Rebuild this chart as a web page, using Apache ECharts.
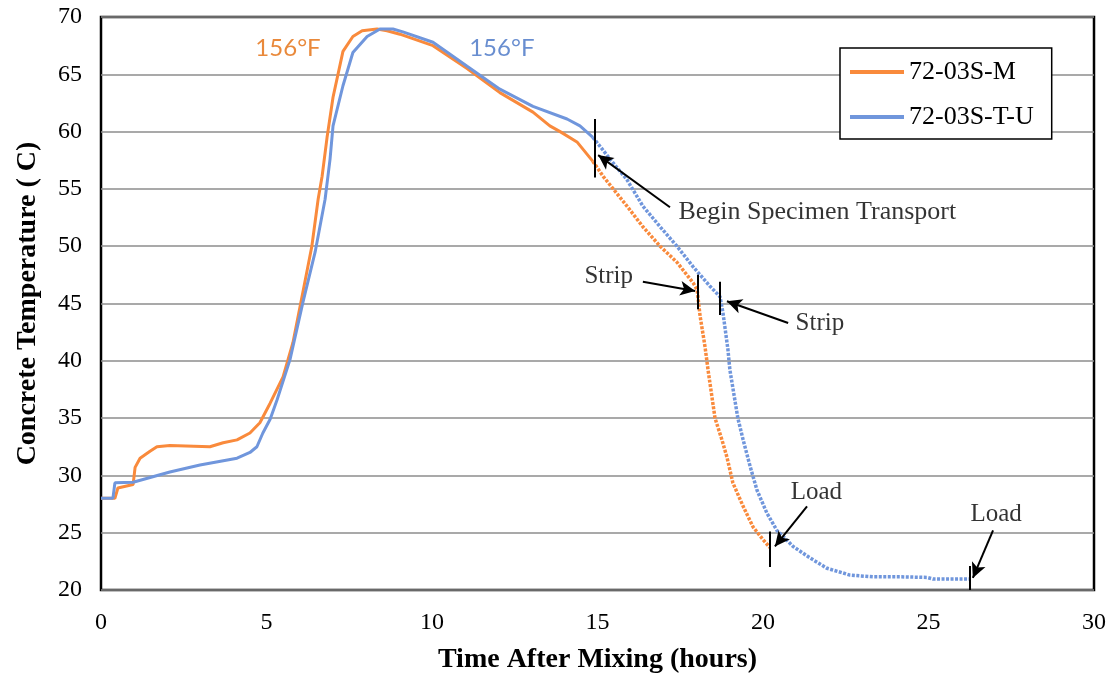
<!DOCTYPE html>
<html>
<head>
<meta charset="utf-8">
<script src="https://cdn.jsdelivr.net/npm/echarts@6/dist/echarts.min.js"></script>
<style>
html,body{margin:0;padding:0;background:#fff;}
#chart{width:1115px;height:682px;}
</style>
</head>
<body>
<div id="chart"></div>
<script>
// ---- data (hours, °C) ----
const seriesNames = ['72-03S-M', '72-03S-T-U'];

const orangeSolid = [[0,28.0],[0.42,28.0],[0.51,28.9],[0.97,29.2],[1.03,30.7],[1.18,31.5],[1.48,32.1],[1.69,32.5],[2.08,32.6],[3.29,32.5],[3.69,32.85],[4.11,33.1],[4.50,33.7],[4.80,34.6],[5.11,36.3],[5.50,38.6],[5.80,41.6],[6.10,46.0],[6.37,50.0],[6.56,54.1],[6.68,56.1],[6.83,59.5],[7.01,63.0],[7.31,67.0],[7.61,68.3],[7.89,68.8],[8.34,68.95],[8.64,68.8],[9.03,68.5],[10.03,67.5],[11.06,65.5],[12.05,63.4],[13.05,61.7],[13.56,60.5],[13.87,60.0],[14.38,59.1],[14.86,57.4]];
const orangeDotted = [[14.86,57.4],[15.17,56.1],[15.89,53.5],[16.37,51.7],[16.89,50.0],[17.40,48.6],[17.89,46.8],[18.01,46.2],[18.10,43.9],[18.25,41.2],[18.34,39.2],[18.55,35.0],[18.76,33.1],[18.91,31.6],[19.09,29.35],[19.40,27.3],[19.70,25.5],[20.00,24.4],[20.21,23.7]];

const blueSolid = [[0,28.0],[0.36,28.0],[0.42,29.35],[0.97,29.4],[2.08,30.3],[2.99,30.9],[4.11,31.5],[4.50,32.0],[4.71,32.5],[4.89,33.7],[5.11,34.9],[5.32,36.6],[5.71,40.1],[6.10,45.1],[6.47,49.5],[6.77,54.1],[6.92,57.6],[7.01,60.5],[7.31,64.0],[7.61,66.9],[8.04,68.3],[8.43,68.95],[8.82,68.95],[9.12,68.7],[10.03,67.8],[11.06,65.7],[12.05,63.7],[13.05,62.2],[14.08,61.1],[14.47,60.5],[14.86,59.5]];
const blueDotted = [[14.86,59.5],[15.38,57.6],[15.89,55.8],[16.37,53.5],[16.89,51.7],[17.40,50.0],[17.89,48.2],[18.40,46.5],[18.70,45.6],[18.79,44.2],[18.94,41.0],[19.00,39.2],[19.24,35.0],[19.40,33.1],[19.61,30.8],[19.82,28.7],[20.12,26.7],[20.42,25.2],[20.91,23.8],[21.42,22.8],[21.93,21.9],[22.63,21.3],[23.32,21.15],[24.14,21.15],[24.95,21.1],[25.14,20.95],[26.25,20.95]];

// annotation marks (data coordinates)
const eventTicks = [[14.92,61.1,56.0],[18.04,47.5,44.5],[18.70,46.9,44.0],[20.21,25.1,22.0],[26.25,22.1,20.0]];
const eventArrows = [[17.19,53.4,15.02,57.95],[16.37,46.9,17.95,46.1],[20.76,43.3,18.91,45.2],[21.33,27.3,20.36,23.8],[26.95,25.2,26.34,21.05]];
const eventTexts = [['Begin Specimen Transport',17.43,53.0],['Strip',14.59,47.35],['Strip',20.97,43.3],['Load',20.82,28.5],['Load',26.25,26.55]];
const peakTexts = [['156°F',5.65,67.3,0],['156°F',12.11,67.3,1]];

const xTicks = [0,5,10,15,20,25,30];
const yTicks = [20,25,30,35,40,45,50,55,60,65,70];

// ---- styles ----
const lineColors = ['#F98A3C', '#7096DC'];
const textColors = ['#E36C0A', '#4472C4'];
const serif = '"Liberation Serif","Times New Roman",serif';

const chart = echarts.init(document.getElementById('chart'), null, {renderer:'canvas'});

function lineSeries(name, data, colorIdx, dotted){
  return {
    name: name, type: 'line', data: data, symbol: 'none', silent: true,
    lineStyle: {color: lineColors[colorIdx], width: dotted ? 3.5 : 3, type: dotted ? [3,1.5] : 'solid', cap: 'butt'},
    itemStyle: {color: lineColors[colorIdx]},
    z: 3 + colorIdx
  };
}

const option = {
  animation: false,
  backgroundColor: '#fff',
  grid: {left: 101, right: 21, top: 17, bottom: 92, show: true, borderColor: '#000', borderWidth: 2.5, backgroundColor: 'transparent'},
  legend: {
    data: seriesNames.map((n,i)=>({name:n, icon:'rect', itemStyle:{color:lineColors[i]}})),
    orient: 'vertical', left: 840, top: 48,
    itemWidth: 54, itemHeight: 4, itemGap: 19,
    padding: [11, 18, 9, 10],
    backgroundColor: '#fff', borderColor: '#000', borderWidth: 1.5,
    textStyle: {fontFamily: serif, fontSize: 26, color: '#000', lineHeight: 26},
    selectedMode: false
  },
  xAxis: {
    type: 'value', min: 0, max: 30, interval: 5,
    name: 'Time After Mixing (hours)', nameLocation: 'middle', nameGap: 56,
    nameTextStyle: {fontFamily: serif, fontSize: 28, fontWeight: 'bold', color: '#000'},
    axisLine: {show: false}, axisTick: {show: false}, splitLine: {show: false},
    axisLabel: {fontFamily: serif, fontSize: 24, color: '#000', margin: 21,
      formatter: v => xTicks.includes(v) ? String(v) : ''}
  },
  yAxis: {
    type: 'value', min: 20, max: 70, interval: 5,
    name: 'Concrete Temperature ( C)', nameLocation: 'middle', nameGap: 59, nameRotate: 90,
    nameTextStyle: {fontFamily: serif, fontSize: 28, fontWeight: 'bold', color: '#000'},
    axisLine: {show: false}, axisTick: {show: false},
    splitLine: {show: true, lineStyle: {color: '#8c8c8c', width: 1.5}},
    axisLabel: {fontFamily: serif, fontSize: 24, color: '#000', margin: 19,
      formatter: v => yTicks.includes(v) ? String(v) : ''}
  },
  series: [
    lineSeries(seriesNames[0], orangeSolid, 0, false),
    lineSeries(seriesNames[0] + ' (transport)', orangeDotted, 0, true),
    lineSeries(seriesNames[1], blueSolid, 1, false),
    lineSeries(seriesNames[1] + ' (transport)', blueDotted, 1, true),
    {
      name: 'marks', type: 'line', data: [], silent: true, z: 6,
      markLine: {
        silent: true, animation: false,
        label: {show: false},
        emphasis: {disabled: true},
        data: eventTicks.map(t => [
          {coord: [t[0], t[1]], symbol: 'none', lineStyle: {color: '#000', width: 2, type: 'solid'}},
          {coord: [t[0], t[2]], symbol: 'none'}
        ]).concat(eventArrows.map(a => [
          {coord: [a[0], a[1]], symbol: 'none', lineStyle: {color: '#000', width: 2, type: 'solid'}},
          {coord: [a[2], a[3]], symbol: 'arrow', symbolSize: [11, 15]}
        ]))
      }
    },
    {
      name: 'texts', type: 'scatter', silent: true, symbolSize: 1, z: 7,
      itemStyle: {color: 'rgba(0,0,0,0)'},
      data: eventTexts.map(t => ({
        name: t[0], value: [t[1], t[2]],
        label: {show: true, formatter: '{b}', position: 'right', distance: 0,
          fontFamily: serif, fontSize: t[0].length > 10 ? 26 : 25, color: '#000'}
      })).concat(peakTexts.map(t => ({
        name: t[0], value: [t[1], t[2]],
        label: {show: true, formatter: '{b}', position: 'inside',
          fontFamily: 'Lato, "Noto Sans", sans-serif', fontSize: 24, color: textColors[t[3]]}
      })))
    }
  ]
};
chart.setOption(option);
</script>
</body>
</html>
